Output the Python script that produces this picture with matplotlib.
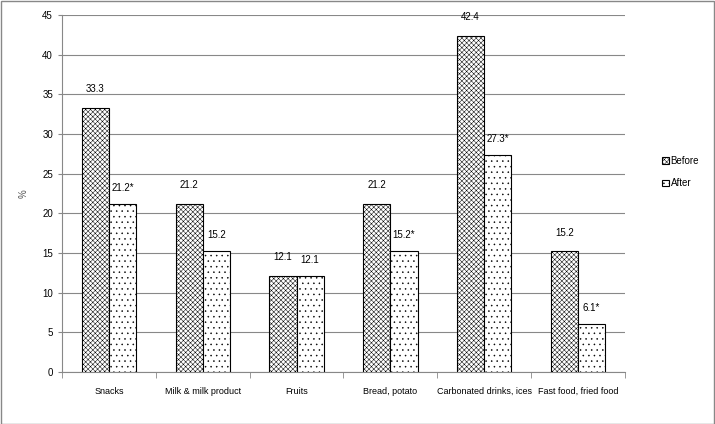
import matplotlib
matplotlib.use("Agg")
import matplotlib.pyplot as plt
import numpy as np

categories = ["Snacks", "Milk & milk product", "Fruits", "Bread, potato",
              "Carbonated drinks, ices", "Fast food, fried food"]
before = [33.3, 21.2, 12.1, 21.2, 42.4, 15.2]
after = [21.2, 15.2, 12.1, 15.2, 27.3, 6.1]
before_labels = ["33.3", "21.2", "12.1", "21.2", "42.4", "15.2"]
after_labels = ["21.2*", "15.2", "12.1", "15.2*", "27.3*", "6.1*"]

plt.rcParams['font.family'] = ['Liberation Sans', 'DejaVu Sans']
plt.rcParams['hatch.linewidth'] = 0.35

fig = plt.figure(figsize=(7.15, 4.24), dpi=100)
ax = fig.add_axes([0.0867, 0.1226, 0.7873, 0.842])

x = np.arange(len(categories))
w = 0.29
b1 = ax.bar(x - w / 2, before, w, color="white", edgecolor="black",
            hatch="xxxxxxx", linewidth=0.8, label="Before", zorder=3)
b2 = ax.bar(x + w / 2, after, w, color="white", edgecolor="black",
            hatch="...", linewidth=0.8, label="After", zorder=3)

for rect, lab in zip(b1, before_labels):
    ax.annotate(lab, (rect.get_x() + rect.get_width() / 2, rect.get_height()),
                xytext=(0, 10), textcoords="offset points", ha="center",
                va="bottom", fontsize=7)
for rect, lab in zip(b2, after_labels):
    ax.annotate(lab, (rect.get_x() + rect.get_width() / 2, rect.get_height()),
                xytext=(0, 8), textcoords="offset points", ha="center",
                va="bottom", fontsize=7)

ax.set_xlim(-0.5, len(categories) - 0.5)
ax.set_ylim(0, 45)
ax.set_yticks(range(0, 46, 5))
ax.yaxis.grid(True, color="#888888", linewidth=0.8, zorder=0)
ax.set_xticks(x)
ax.set_xticklabels(categories, fontsize=6.5)
ax.set_xticks(np.arange(-0.5, len(categories), 1), minor=True)
ax.tick_params(axis="x", which="major", length=0, pad=11)
ax.tick_params(axis="x", which="minor", length=4, color="#888888")
ax.tick_params(axis="y", labelsize=7, length=3, color="#888888")
for s in ["top", "right"]:
    ax.spines[s].set_visible(False)
for s in ["left", "bottom"]:
    ax.spines[s].set_color("#888888")

ax.set_ylabel("%", fontsize=7, color="#555555", labelpad=10)

ax.legend(loc="center left", bbox_to_anchor=(1.05, 0.56), frameon=False,
          fontsize=7, handlelength=0.7, handleheight=0.7, handletextpad=0.2,
          labelspacing=1.3)

fig.patches.append(plt.Rectangle((0.001, 0.001), 0.997, 0.997,
                                 transform=fig.transFigure, fill=False,
                                 edgecolor="#888888", linewidth=1))
fig.savefig("out.png", dpi=100)
